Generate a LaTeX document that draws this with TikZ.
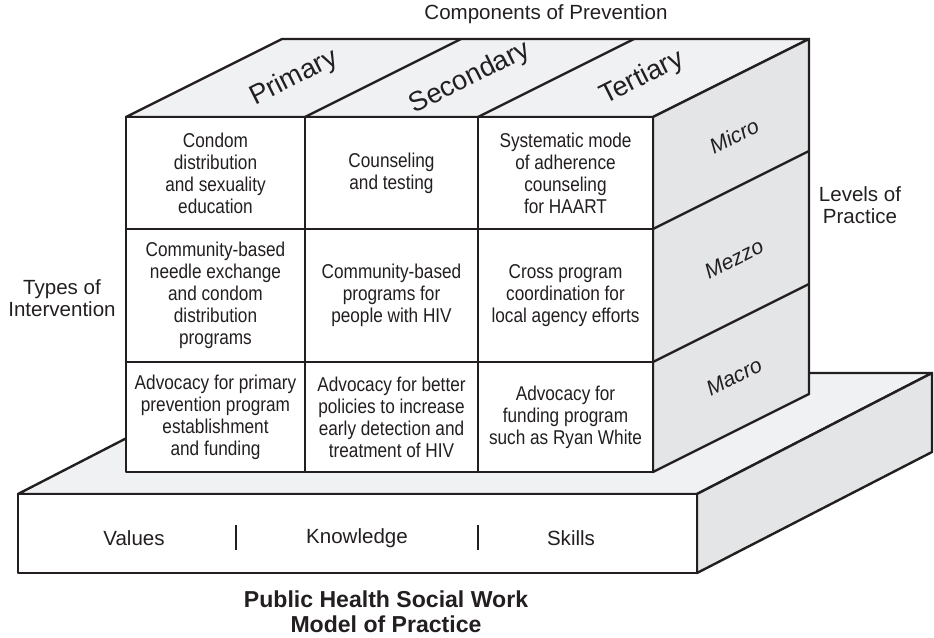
\documentclass[tikz,border=0pt]{standalone}
\usepackage{fontspec}
\setmainfont{Liberation Sans}
\newfontfamily\narrowfont{Liberation Sans}[FakeStretch=0.86]
\usetikzlibrary{calc,positioning}

\definecolor{ink}{HTML}{231F20}
\definecolor{topgray}{HTML}{F0F1F3}
\definecolor{sidegray}{HTML}{E4E5E7}

\begin{document}
\begin{tikzpicture}[x=0.75pt, y=-0.75pt, line join=round]
  \tikzstyle{face} = [draw=ink, line width=1.8pt]
  \tikzstyle{cell} = [align=center, text=ink, font=\narrowfont\fontsize{15}{16.5}\selectfont]
  \tikzstyle{outer} = [align=center, text=ink, font=\fontsize{15.4}{16.5}\selectfont]
  \tikzstyle{toptext} = [text=ink, rotate=26.6, inner sep=0pt, font=\fontsize{20.5}{21}\selectfont]
  \tikzstyle{sidetext} = [text=ink, rotate=26.6, inner sep=0pt, font=\itshape\fontsize{16}{17}\selectfont]

  \useasboundingbox (0,0) rectangle (934,638);

  % base slab
  \filldraw[face, fill=topgray] (18,494) -- (697,494) -- (932,373) -- (253,373) -- cycle;
  \filldraw[face, fill=sidegray] (697,494) -- (932,373) -- (932,452) -- (697,573) -- cycle;
  \filldraw[face, fill=white] (18,494) rectangle (697,573);
  \draw[ink, line width=2.2pt] (236,525) -- (236,550);
  \draw[ink, line width=2.2pt] (478,525) -- (478,550);

  % cube
  \filldraw[face, fill=topgray] (126,117) -- (282,39) -- (809,39) -- (653,117) -- cycle;
  \filldraw[face, fill=sidegray] (653,117) -- (809,39) -- (809,394) -- (653,472) -- cycle;
  \filldraw[face, fill=white] (126,117) rectangle (653,472);
  \foreach \x in {305,478} {
    \draw[face] (\x,117) -- (\x,472);
    \draw[face] (\x,117) -- ($(\x,117)+(156,-78)$);
  }
  \foreach \y in {229,362} {
    \draw[face] (126,\y) -- (653,\y);
    \draw[face] (653,\y) -- ($(653,\y)+(156,-78)$);
  }

  % components on top
  \node[toptext] (primary) at (294,78) {Primary};
  \node[toptext] (secondary) at (470,78) {Secondary};
  \node[toptext] (tertiary) at (642,78) {Tertiary};

  % levels on the side
  \node[sidetext] (micro) at (734,136) {Micro};
  \node[sidetext] (mezzo) at (734,259) {Mezzo};
  \node[sidetext] (macro) at (734,377) {Macro};

  % front cells
  \node[cell] (c11) at (215.5,173) {Condom\\distribution\\and sexuality\\education};
  \node[cell] (c12) at (391.5,173) {Counseling\\and testing};
  \node[cell] (c13) at (565.5,173) {Systematic mode\\of adherence\\counseling\\for HAART};
  \node[cell] (c21) at (215.5,295.5) {Community-based\\needle exchange\\and condom\\distribution\\programs};
  \node[cell] (c22) at (391.5,295.5) {Community-based\\programs for\\people with HIV};
  \node[cell] (c23) at (565.5,295.5) {Cross program\\coordination for\\local agency efforts};
  \node[cell] (c31) at (215.5,417) {Advocacy for primary\\prevention program\\establishment\\and funding};
  \node[cell] (c32) at (391.5,417) {Advocacy for better\\policies to increase\\early detection and\\treatment of HIV};
  \node[cell] (c33) at (565.5,417) {Advocacy for\\funding program\\such as Ryan White};

  % base words
  \node[outer] (values) at (134,538) {Values};
  \node[outer] (knowledge) at (357,538) {Knowledge};
  \node[outer] (skills) at (571,538) {Skills};

  % outside captions
  \node[outer] (components) at (546,14) {Components of Prevention};
  \node[outer] (levels) at (860,205) {Levels of\\Practice};
  \node[outer] (types) at (62,298) {Types of\\Intervention};
  \node[align=center, text=ink, font=\bfseries\fontsize{17.3}{18.8}\selectfont]
    (model) at (386,612) {Public Health Social Work\\Model of Practice};
\end{tikzpicture}
\end{document}
